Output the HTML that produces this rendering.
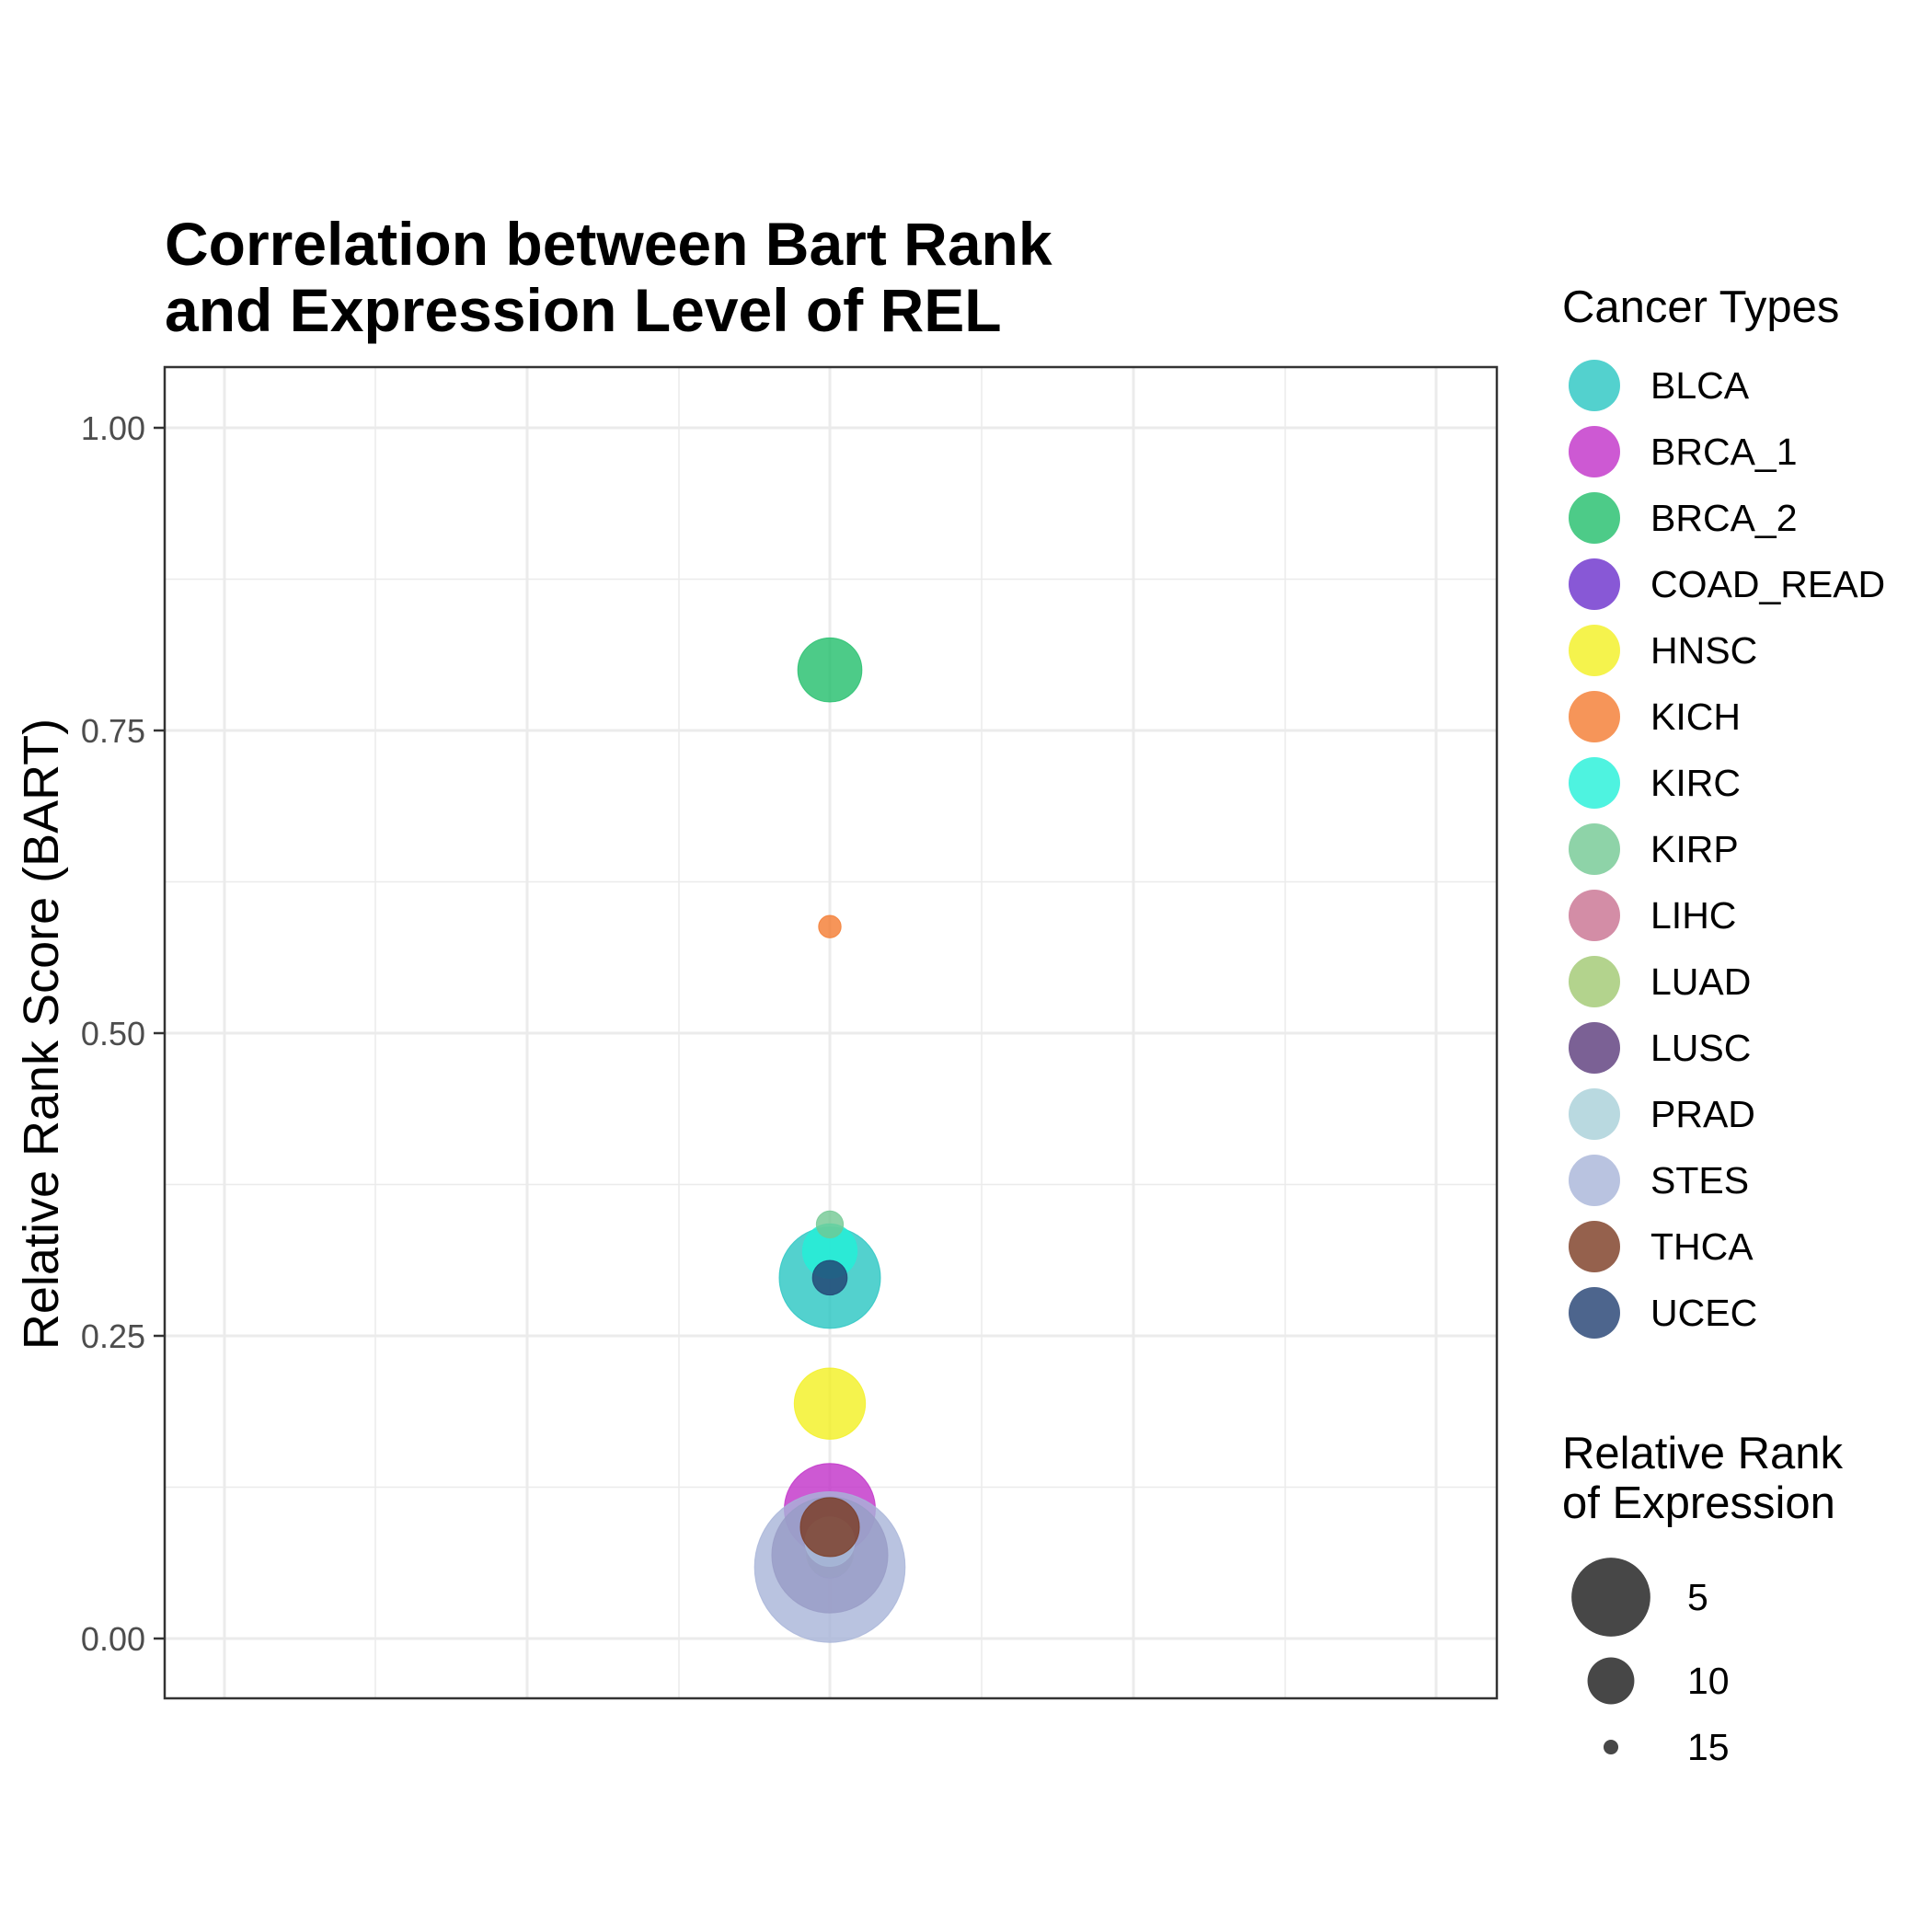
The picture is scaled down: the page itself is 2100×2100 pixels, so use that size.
<!DOCTYPE html>
<html><head><meta charset="utf-8"><style>
html,body{margin:0;padding:0;background:#fff;}
svg{display:block;font-family:"Liberation Sans",Arial,sans-serif;}
</style></head><body>
<svg id="chart" width="2100" height="2100" viewBox="0 0 2100 2100" xmlns="http://www.w3.org/2000/svg">
<rect width="2100" height="2100" fill="#fff"/>
<text x="179" y="288" font-size="66" font-weight="bold">Correlation between Bart Rank</text>
<text x="179" y="360" font-size="66" font-weight="bold">and Expression Level of REL</text>
<g id="grid"></g>
<g id="points"></g>
<rect x="179" y="399" width="1448" height="1447" fill="none" stroke="#333" stroke-width="2.5"/>
<g id="yaxis"></g>
<text transform="translate(63,1124) rotate(-90)" text-anchor="middle" font-size="54">Relative Rank Score (BART)</text>
<text x="1698" y="350" font-size="49">Cancer Types</text>
<g id="legend"></g>
<text x="1698" y="1596" font-size="49">Relative Rank</text>
<text x="1698" y="1650" font-size="49">of Expression</text>
<g id="sizelegend"></g>
</svg>
<script>
const categories = ["BLCA","BRCA_1","BRCA_2","COAD_READ","HNSC","KICH","KIRC","KIRP","LIHC","LUAD","LUSC","PRAD","STES","THCA","UCEC"];
const colors = ["#28c6c2","#c030c8","#20be6a","#6a2ecc","#f2f020","#f47a30","#22f0d8","#72c892","#c87090","#a0c870","#5a3a7a","#a8d0d8","#a8b4d8","#7a3a20","#203e70"];
const bartScores = [0.298,0.107,0.80,0.068,0.194,0.588,0.32,0.342,0.075,0.07,0.069,0.08,0.059,0.092,0.298];
const exprRanks = [1.5,3.1,7.3,10.5,6.2,13.8,8.8,13.1,11.9,10,-0.8,9.6,-6.2,8.1,11.9];
const yTicks = [0,0.25,0.5,0.75,1];
const yTickLabels = ["0.00","0.25","0.50","0.75","1.00"];
const sizeBreaks = [5,10,15];

const NS="http://www.w3.org/2000/svg";
const px0=179, px1=1627, py0=399, py1=1846;
const yScale = v => 1781 - v*1316;
const xCenter = 902;
const rScale = v => Math.max(3, (45 - 2.6*v)*1.339);
function mk(tag, attrs, parent){const e=document.createElementNS(NS,tag);for(const k in attrs)e.setAttribute(k,attrs[k]);parent.appendChild(e);return e;}

const grid=document.getElementById('grid');
const xGrid=[244,408,573,738,902,1067,1232,1397,1561];
for(let i=0;i<yTicks.length;i++){
  const y=yScale(yTicks[i]);
  const l=mk('line',{x1:px0,x2:px1,y1:y,y2:y,stroke:'#ebebeb','stroke-width':3},grid);
  
  
  if(i<yTicks.length-1){
    const ym=yScale((yTicks[i]+yTicks[i+1])/2);
    const m=mk('line',{x1:px0,x2:px1,y1:ym,y2:ym,stroke:'#ebebeb','stroke-width':1.5},grid);
    
    
  }
}
xGrid.forEach((x,i)=>{
  const l=mk('line',{x1:x,x2:x,y1:py0,y2:py1,stroke:'#ebebeb','stroke-width':i%2===0?3:1.5},grid);
  
  
});

const yaxis=document.getElementById('yaxis');
yTicks.forEach((t,i)=>{
  const y=yScale(t);
  const tk=mk('line',{x1:167,x2:179,y1:y,y2:y,stroke:'#333','stroke-width':2.5},yaxis);
  
  
  const tx=mk('text',{x:158,y:y+13,'text-anchor':'end','font-size':36,fill:'#4d4d4d'},yaxis);
  tx.textContent=yTickLabels[i];
  
  
});

const pts=document.getElementById('points');
categories.forEach((c,i)=>{
  const p=mk('circle',{cx:xCenter,cy:yScale(bartScores[i]),r:rScale(exprRanks[i]),fill:colors[i],'fill-opacity':0.8,stroke:colors[i],'stroke-opacity':0.8,'stroke-width':1},pts);
  
  
});

const lg=document.getElementById('legend');
categories.forEach((c,i)=>{
  const y=419+i*72.0;
  const k=mk('circle',{cx:1733,cy:y,r:28,fill:colors[i],'fill-opacity':0.8},lg);
  
  
  const t=mk('text',{x:1794,y:y+14,'font-size':41},lg);
  t.textContent=c;
  
  
});

const sl=document.getElementById('sizelegend');
const sY=[1736,1827,1899];
sizeBreaks.forEach((b,i)=>{
  const k=mk('circle',{cx:1751,cy:sY[i],r:rScale(b),fill:'#333','fill-opacity':0.9},sl);
  
  
  const t=mk('text',{x:1834,y:sY[i]+14,'font-size':41},sl);
  t.textContent=String(b);
  
  
});
</script>
</body></html>
